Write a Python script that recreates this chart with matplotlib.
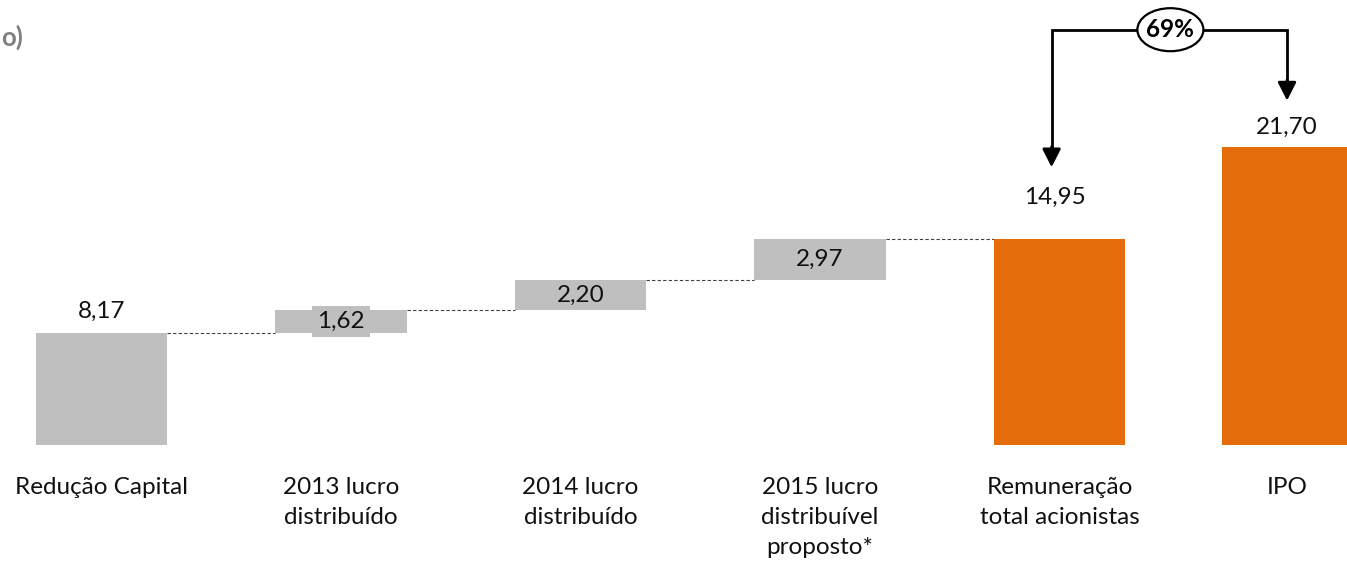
import matplotlib
matplotlib.use("Agg")
import matplotlib.pyplot as plt
from matplotlib.patches import Ellipse
import numpy as np

# ---- data ----
categories = ["Redução Capital", "2013 lucro\ndistribuído", "2014 lucro\ndistribuído",
              "2015 lucro\ndistribuível\nproposto*", "Remuneração\ntotal acionistas", "IPO"]
values = [8.17, 1.62, 2.20, 2.97, 14.95, 21.70]
kinds = ["base", "step", "step", "step", "total", "total"]
value_labels = ["8,17", "1,62", "2,20", "2,97", "14,95", "21,70"]
pct_label = "69%"
title_fragment = "o)"

# ---- style ----
GRAY = "#BFBFBF"
ORANGE = "#E46C0A"
FONT = "Lato"
FS = 17.5

W, H, DPI = 1347, 564, 100
PX = 72 / DPI  # points per pixel
fig = plt.figure(figsize=(W / DPI, H / DPI), dpi=DPI)
ax = fig.add_axes([0, 0, 1, 1])
ax.set_xlim(-0.4238, 5.2004)
ax.set_ylim(-8.655, 32.36)
ax.axis("off")

x_pos = [0, 1, 2, 3, 4, 4.95]
bw = 0.547

# compute bottoms for waterfall
bottoms = []
cum = 0.0
for v, k in zip(values, kinds):
    if k == "base":
        bottoms.append(0.0)
        cum = v
    elif k == "step":
        bottoms.append(cum)
        cum += v
    else:
        bottoms.append(0.0)

colors = [GRAY if k != "total" else ORANGE for k in kinds]
ax.bar(x_pos, values, width=bw, bottom=bottoms, color=colors, edgecolor="none", zorder=2)

# connectors
for i in range(4):
    level = bottoms[i] + values[i]
    ax.plot([x_pos[i] + bw / 2, x_pos[i + 1] - bw / 2], [level, level],
            color="#404040", lw=0.8, ls=(0, (3, 2)), zorder=1)

# value labels
above_offsets = {0: 15, 4: 36, 5: 13}  # pixels above bar top
for i, (v, k, lab) in enumerate(zip(values, kinds, value_labels)):
    top = bottoms[i] + v
    if k == "step":
        kw = {}
        if v < 2:
            kw["bbox"] = dict(boxstyle="square,pad=0.2", fc=GRAY, ec="none")
        ax.text(x_pos[i], bottoms[i] + v / 2, lab, ha="center", va="center",
                fontsize=FS, family=FONT, color="#111111", zorder=3, **kw)
    else:
        xoff = -5 if i == 4 else 0
        ax.annotate(lab, (x_pos[i], top), xytext=(xoff * PX, above_offsets[i] * PX),
                    textcoords="offset points", ha="center", va="baseline",
                    fontsize=FS, family=FONT, color="#111111")

# category labels
for xp, cat in zip(x_pos, categories):
    ax.annotate(cat, (xp, 0), xytext=(0, -32 * PX), textcoords="offset points",
                ha="center", va="top", fontsize=FS, family=FONT,
                color="#111111", linespacing=1.52, multialignment="center")

# growth arrow
top_y = 30.2
left_x = x_pos[4] - 0.033
right_x = x_pos[5]
left_tip = values[4] + 5.25
right_tip = values[5] + 3.35
ax.plot([left_x, left_x, right_x, right_x], [left_tip + 1, top_y, top_y, right_tip + 1],
        color="black", lw=2, solid_joinstyle="miter", zorder=4)
for xx, tip in [(left_x, left_tip), (right_x, right_tip)]:
    ax.annotate("", xy=(xx, tip), xytext=(xx, tip + 1.5),
                arrowprops=dict(arrowstyle="-|>,head_length=0.55,head_width=0.28",
                                mutation_scale=20, lw=2, color="black",
                                shrinkA=0, shrinkB=0), zorder=4)
ell = Ellipse((4.463, top_y), width=66 / 239.5, height=43 / 13.75,
              fc="white", ec="black", lw=1.6, zorder=5)
ax.add_patch(ell)
ax.text(4.463, top_y, pct_label, ha="center", va="center", fontsize=FS,
        family=FONT, fontweight="bold", color="black", zorder=6)

# cropped title fragment
fig.text(1 / W, 1 - 37 / H, title_fragment, ha="left", va="center", fontsize=FS + 1,
         family=FONT, fontweight="bold", color="#7F7F7F")

fig.savefig("out.png", dpi=DPI)
